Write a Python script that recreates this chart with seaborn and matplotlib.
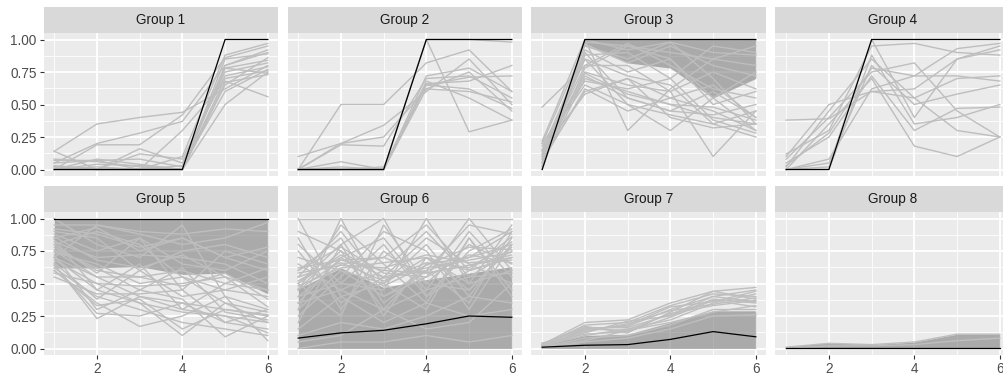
import matplotlib
matplotlib.use("Agg")
import matplotlib.pyplot as plt
import numpy as np
import pandas as pd
import seaborn as sns

# ---- data -------------------------------------------------------------
steps = [1, 2, 3, 4, 5, 6]
groups = ["Group 1", "Group 2", "Group 3", "Group 4",
          "Group 5", "Group 6", "Group 7", "Group 8"]

g1_lines = [
    [0.14, 0.35, 0.40, 0.44, 0.62, 0.80],
    [0.05, 0.20, 0.28, 0.37, 0.80, 0.90],
    [0.00, 0.19, 0.19, 0.42, 0.86, 0.95],
    [0.07, 0.07, 0.00, 0.30, 0.68, 0.56],
    [0.14, 0.00, 0.00, 0.10, 0.88, 0.97],
    [0.03, 0.00, 0.00, 0.00, 0.78, 0.74],
    [0.00, 0.00, 0.16, 0.05, 0.75, 0.82],
    [0.00, 0.02, 0.00, 0.00, 0.67, 0.73],
    [0.05, 0.07, 0.08, 0.02, 0.60, 0.77],
    [0.00, 0.04, 0.03, 0.00, 0.85, 0.89],
    [0.02, 0.00, 0.12, 0.08, 0.72, 0.79],
    [0.00, 0.00, 0.00, 0.00, 0.50, 0.75],
    [0.08, 0.06, 0.02, 0.00, 0.65, 0.86],
    [0.00, 0.00, 0.00, 0.03, 0.80, 0.92],
    [0.00, 0.08, 0.04, 0.00, 0.78, 0.84],
    [0.02, 0.00, 0.00, 0.00, 0.70, 0.76],
]
g2_lines = [
    [0.00, 0.50, 0.50, 0.82, 0.92, 0.60],
    [0.10, 0.20, 0.34, 0.60, 0.85, 0.50],
    [0.00, 0.20, 0.25, 0.62, 0.75, 0.45],
    [0.00, 0.19, 0.18, 0.70, 0.72, 0.55],
    [0.00, 0.06, 0.00, 0.65, 0.62, 0.47],
    [0.00, 0.00, 0.02, 0.66, 0.68, 0.80],
    [0.00, 0.02, 0.00, 1.00, 0.29, 0.38],
    [0.00, 0.00, 0.00, 1.00, 1.00, 0.98],
    [0.00, 0.00, 0.00, 0.68, 0.55, 0.38],
    [0.00, 0.00, 0.00, 0.65, 0.71, 0.72],
    [0.00, 0.00, 0.00, 0.72, 0.78, 0.60],
    [0.00, 0.00, 0.00, 0.62, 0.60, 0.52],
]
g3_lines = [
    [0.48, 0.80, 0.97, 0.80, 0.62, 0.55],
    [0.22, 1.00, 0.30, 0.62, 0.85, 0.95],
    [0.20, 0.95, 0.85, 0.98, 0.70, 0.35],
    [0.15, 0.90, 0.55, 0.45, 0.60, 0.40],
    [0.12, 0.85, 0.50, 0.30, 0.55, 0.30],
    [0.10, 0.75, 0.65, 0.60, 0.10, 0.45],
    [0.05, 0.70, 0.60, 0.50, 0.40, 0.35],
    [0.18, 0.65, 0.50, 0.42, 0.35, 0.25],
    [0.08, 0.60, 0.70, 0.55, 0.45, 0.30],
    [0.00, 0.98, 0.95, 0.90, 0.85, 0.80],
    [0.02, 0.92, 0.75, 0.85, 0.55, 0.75],
    [0.05, 0.88, 0.90, 0.70, 0.95, 0.90],
    [0.12, 0.80, 0.80, 0.60, 0.75, 0.62],
    [0.10, 0.72, 0.55, 0.45, 0.42, 0.50],
    [0.15, 0.58, 0.70, 0.40, 0.32, 0.35],
    [0.08, 0.96, 0.82, 0.95, 0.80, 0.72],
    [0.03, 0.78, 0.95, 0.85, 0.50, 0.60],
    [0.20, 0.68, 0.62, 0.70, 0.38, 0.28],
    [0.06, 0.62, 0.45, 0.55, 0.65, 0.40],
    [0.00, 1.00, 0.92, 0.98, 0.90, 0.88],
    [0.10, 0.85, 0.72, 0.65, 0.35, 0.45],
    [0.14, 0.74, 0.58, 0.50, 0.48, 0.38],
]
g4_lines = [
    [0.38, 0.39, 0.60, 0.62, 0.85, 0.95],
    [0.12, 0.30, 0.95, 0.97, 0.90, 0.88],
    [0.08, 0.40, 0.75, 0.82, 0.45, 0.25],
    [0.00, 0.05, 0.80, 0.50, 0.58, 0.65],
    [0.02, 0.45, 0.85, 0.55, 0.30, 0.25],
    [0.00, 0.35, 0.70, 0.18, 0.10, 0.25],
    [0.05, 0.25, 0.72, 0.30, 0.47, 0.48],
    [0.00, 0.02, 1.00, 0.40, 0.85, 0.92],
    [0.10, 0.50, 0.60, 0.55, 0.70, 0.72],
    [0.00, 0.08, 0.62, 0.72, 0.93, 0.97],
    [0.03, 0.28, 0.78, 0.72, 0.72, 0.68],
    [0.00, 0.00, 0.88, 0.35, 0.40, 0.50],
]
g5_lines = [
    [0.95, 0.95, 0.88, 0.80, 0.85, 0.97],
    [0.85, 0.93, 0.75, 0.85, 0.70, 0.60],
    [0.80, 0.90, 0.80, 0.55, 0.45, 0.40],
    [0.75, 0.55, 0.40, 0.35, 0.30, 0.25],
    [0.70, 0.45, 0.35, 0.10, 0.35, 0.20],
    [0.65, 0.23, 0.40, 0.30, 0.25, 0.12],
    [0.60, 0.35, 0.17, 0.25, 0.40, 0.06],
    [0.55, 0.42, 0.42, 0.45, 0.20, 0.30],
    [0.72, 0.30, 0.45, 0.38, 0.09, 0.25],
    [0.68, 0.50, 0.48, 0.50, 0.55, 0.32],
    [0.78, 0.60, 0.55, 0.60, 0.50, 0.45],
    [0.82, 0.70, 0.72, 0.70, 0.65, 0.50],
    [0.90, 0.85, 0.60, 0.75, 0.80, 0.70],
    [0.62, 0.40, 0.30, 0.20, 0.15, 0.10],
    [0.88, 0.75, 0.85, 0.65, 0.60, 0.75],
    [0.74, 0.65, 0.50, 0.55, 0.35, 0.28],
    [1.00, 0.80, 0.70, 0.95, 0.40, 0.30],
    [0.66, 0.38, 0.60, 0.40, 0.45, 0.55],
    [0.58, 0.50, 0.35, 0.28, 0.25, 0.20],
    [0.80, 0.58, 0.85, 0.45, 0.75, 0.65],
    [0.70, 0.95, 0.90, 0.88, 0.92, 0.90],
    [0.76, 0.62, 0.45, 0.62, 0.28, 0.22],
    [0.84, 0.45, 0.65, 0.30, 0.50, 0.62],
    [0.64, 0.27, 0.25, 0.35, 0.20, 0.15],
    [0.92, 0.88, 0.78, 0.85, 0.70, 0.78],
    [0.70, 0.55, 0.55, 0.48, 0.58, 0.38],
    [0.86, 0.68, 0.62, 0.72, 0.55, 0.45],
    [0.60, 0.33, 0.38, 0.15, 0.30, 0.26],
]
g6_lines = [
    [0.30, 1.00, 0.40, 0.60, 0.35, 0.90],
    [1.00, 0.40, 0.50, 0.70, 0.45, 0.80],
    [0.50, 0.80, 1.00, 0.40, 0.60, 0.70],
    [0.40, 0.50, 0.45, 1.00, 0.50, 0.95],
    [0.70, 0.60, 0.40, 0.55, 1.00, 0.60],
    [1.00, 1.00, 1.00, 1.00, 1.00, 1.00],
    [0.85, 0.30, 0.75, 0.50, 0.80, 0.65],
    [0.55, 0.90, 0.50, 0.80, 0.40, 0.85],
    [0.35, 0.70, 0.85, 0.45, 0.90, 0.55],
    [0.65, 0.45, 0.60, 0.90, 0.55, 0.75],
    [0.90, 0.75, 0.30, 0.65, 0.70, 0.90],
    [0.45, 0.95, 0.65, 0.35, 0.85, 0.45],
    [0.25, 0.55, 0.90, 0.75, 0.30, 0.80],
    [0.75, 0.35, 0.55, 0.85, 0.65, 0.50],
    [0.60, 0.85, 0.35, 0.60, 0.95, 0.88],
    [0.40, 0.65, 0.70, 0.95, 0.60, 0.70],
    [0.80, 0.50, 0.80, 0.40, 0.75, 0.92],
    [0.20, 0.80, 0.25, 0.70, 0.50, 0.60],
    [0.50, 0.25, 0.95, 0.50, 0.45, 0.78],
    [0.30, 0.60, 0.50, 0.30, 0.85, 0.40],
    [0.50, 0.72, 0.55, 0.62, 0.68, 0.74],
    [0.45, 0.68, 0.60, 0.58, 0.64, 0.70],
    [0.55, 0.66, 0.52, 0.66, 0.62, 0.82],
    [0.60, 0.78, 0.58, 0.55, 0.72, 0.66],
    [0.48, 0.62, 0.66, 0.70, 0.60, 0.86],
    [0.52, 0.70, 0.48, 0.64, 0.78, 0.76],
    [0.58, 0.64, 0.62, 0.72, 0.66, 0.68],
    [0.46, 0.75, 0.54, 0.60, 0.70, 0.80],
    [0.62, 0.68, 0.70, 0.58, 0.64, 0.72],
    [0.15, 0.40, 0.20, 0.35, 0.25, 0.30],
    [0.10, 0.20, 0.15, 0.25, 0.40, 0.35],
    [0.05, 0.10, 0.30, 0.15, 0.20, 0.50],
    [0.00, 0.05, 0.05, 0.10, 0.05, 0.10],
    [0.35, 0.45, 0.30, 0.45, 0.55, 0.58],
]
g7_lines = [
    [0.03, 0.20, 0.22, 0.35, 0.44, 0.47],
    [0.02, 0.18, 0.20, 0.33, 0.42, 0.40],
    [0.04, 0.15, 0.17, 0.30, 0.40, 0.45],
    [0.01, 0.12, 0.21, 0.25, 0.38, 0.35],
    [0.03, 0.17, 0.12, 0.28, 0.44, 0.38],
    [0.02, 0.10, 0.15, 0.22, 0.35, 0.42],
    [0.01, 0.08, 0.10, 0.18, 0.30, 0.30],
    [0.00, 0.05, 0.08, 0.15, 0.25, 0.26],
    [0.02, 0.14, 0.18, 0.32, 0.36, 0.44],
    [0.01, 0.06, 0.14, 0.20, 0.28, 0.33],
    [0.03, 0.16, 0.16, 0.26, 0.40, 0.36],
    [0.02, 0.13, 0.19, 0.29, 0.34, 0.39],
    [0.04, 0.11, 0.13, 0.24, 0.37, 0.32],
    [0.01, 0.15, 0.14, 0.27, 0.33, 0.37],
]
g8_lines = [
    [0.01, 0.04, 0.03, 0.05, 0.11, 0.11],
    [0.00, 0.02, 0.02, 0.03, 0.06, 0.08],
]

reference = [
    [0, 0, 0, 0, 1, 1],
    [0, 0, 0, 1, 1, 1],
    [0, 1, 1, 1, 1, 1],
    [0, 0, 1, 1, 1, 1],
    [1, 1, 1, 1, 1, 1],
    [0.08, 0.12, 0.14, 0.19, 0.25, 0.24],
    [0.01, 0.025, 0.03, 0.07, 0.13, 0.09],
    [0.005, 0.005, 0.005, 0.005, 0.005, 0.005],
]
band_low = [
    [0, 0, 0, 0, 1, 1],
    [0, 0, 0, 1, 1, 1],
    [0, 0.97, 0.82, 0.78, 0.55, 0.70],
    [0, 0, 1, 1, 1, 1],
    [0.62, 0.62, 0.63, 0.57, 0.58, 0.42],
    [0, 0, 0, 0, 0, 0],
    [0, 0, 0, 0, 0, 0],
    [0, 0, 0, 0, 0, 0],
]
band_high = [
    [0, 0, 0, 0, 1, 1],
    [0, 0, 0, 1, 1, 1],
    [0, 1, 1, 1, 1, 1],
    [0, 0, 1, 1, 1, 1],
    [1, 1, 1, 1, 1, 1],
    [0.46, 0.62, 0.47, 0.53, 0.58, 0.63],
    [0.03, 0.10, 0.11, 0.20, 0.29, 0.29],
    [0.01, 0.045, 0.03, 0.05, 0.11, 0.11],
]
all_lines = [g1_lines, g2_lines, g3_lines, g4_lines,
             g5_lines, g6_lines, g7_lines, g8_lines]

rows = []
for g, lines in zip(groups, all_lines):
    for i, vals in enumerate(lines):
        for s, v in zip(steps, vals):
            rows.append({"group": g, "line": i, "step": s, "value": v})
df = pd.DataFrame(rows)

# ---- figure -----------------------------------------------------------
W, H = 1004, 375
fig = plt.figure(figsize=(W / 100, H / 100), dpi=100)
plt.rcParams["font.family"] = ["Liberation Sans", "DejaVu Sans"]

lefts = [43.5, 287.5, 531.5, 775.5]
pw = 235
row_box = [(33, 176), (212, 355)]      # panel top/bottom in px
strip_h = 26

for k, g in enumerate(groups):
    r, c = divmod(k, 4)
    top, bot = row_box[r]
    ax = fig.add_axes([lefts[c] / W, 1 - bot / H, pw / W, (bot - top) / H])
    ax.set_facecolor("#EBEBEB")
    sub = df[df["group"] == g]
    sns.lineplot(data=sub, x="step", y="value", units="line", estimator=None,
                 color="#BEBEBE", lw=1.0, ax=ax, legend=False)
    ax.fill_between(steps, band_low[k], band_high[k], color="#808080",
                    alpha=0.6, lw=0)
    sns.lineplot(x=steps, y=reference[k], color="black", lw=0.9, ax=ax)

    ax.set_xlim(0.75, 6.25)
    ax.set_ylim(-0.05, 1.05)
    ax.set_xticks([2, 4, 6])
    ax.set_xticks([1, 3, 5], minor=True)
    ax.set_yticks([0, 0.25, 0.5, 0.75, 1.0])
    ax.set_yticks([0.125, 0.375, 0.625, 0.875], minor=True)
    ax.grid(which="major", color="white", lw=1.3)
    ax.grid(which="minor", color="white", lw=0.6)
    ax.set_axisbelow(True)
    for sp in ax.spines.values():
        sp.set_visible(False)
    ax.set_xlabel("")
    ax.set_ylabel("")
    ax.tick_params(which="minor", length=0)
    ax.tick_params(which="major", colors="#333333", labelcolor="#4D4D4D",
                   labelsize=9.8, length=3, width=0.8, pad=2)
    if r == 0:
        ax.tick_params(axis="x", length=0, labelbottom=False)
    else:
        ax.set_xticklabels(["2", "4", "6"])
    if c == 0:
        ax.set_yticklabels(["0.00", "0.25", "0.50", "0.75", "1.00"])
    else:
        ax.tick_params(axis="y", length=0, labelleft=False)

    # facet strip
    sax = fig.add_axes([lefts[c] / W, 1 - top / H, pw / W, strip_h / H])
    sax.set_facecolor("#D9D9D9")
    sax.set_xticks([])
    sax.set_yticks([])
    for sp in sax.spines.values():
        sp.set_visible(False)
    sax.text(0.5, 0.5, g, ha="center", va="center", fontsize=9.8,
             color="#1A1A1A", transform=sax.transAxes)

fig.savefig("out.png", dpi=100, facecolor="white")
